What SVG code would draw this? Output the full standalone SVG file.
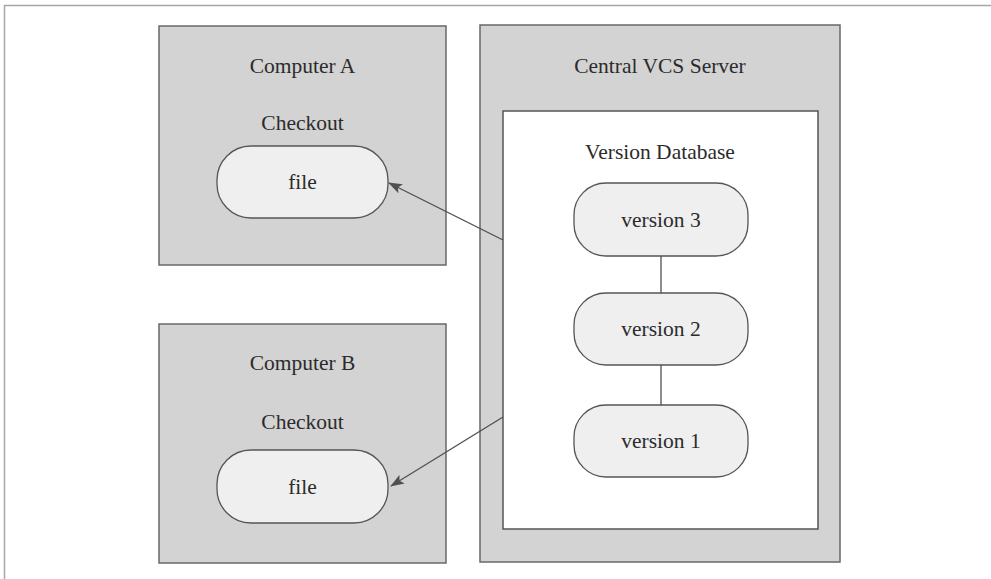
<svg xmlns="http://www.w3.org/2000/svg" width="991" height="579" viewBox="0 0 991 579">
  <style>
    .frame { stroke: #a6a6a6; stroke-width: 1.5; fill: none; }
    .box { fill: #d3d3d3; stroke: #686868; stroke-width: 1.5; }
    .db { fill: #ffffff; stroke: #555555; stroke-width: 1.5; }
    .node { fill: #efefef; stroke: #555555; stroke-width: 1.3; }
    .label { font-family: "Liberation Serif", "Times New Roman", serif; font-size: 21.5px; fill: #2b2b2b; text-anchor: middle; }
    .edge { stroke: #505050; stroke-width: 1.3; fill: none; }
  </style>
  <defs>
    <marker id="arrow" viewBox="0 0 14 10" refX="13" refY="5" markerWidth="14" markerHeight="10" markerUnits="userSpaceOnUse" orient="auto">
      <path d="M0,0 L14,5 L0,10 L3,5 Z" fill="#505050"/>
    </marker>
  </defs>

  <rect width="991" height="579" fill="#ffffff"/>
  <!-- page frame -->
  <path class="frame" d="M4.5,579 V5.5 H991"/>

  <!-- Computer A -->
  <g id="computer-a">
    <rect class="box" x="159" y="26" width="287" height="239"/>
    <text class="label" x="302.5" y="73">Computer A</text>
    <text class="label" x="302.5" y="130">Checkout</text>
    <g id="file-a">
      <rect class="node" x="217" y="146" width="171" height="72" rx="34" ry="34"/>
      <text class="label" x="302.5" y="189">file</text>
    </g>
  </g>

  <!-- Computer B -->
  <g id="computer-b">
    <rect class="box" x="159" y="324" width="287" height="239"/>
    <text class="label" x="302.5" y="370">Computer B</text>
    <text class="label" x="302.5" y="429">Checkout</text>
    <g id="file-b">
      <rect class="node" x="217" y="450" width="171" height="73" rx="34" ry="34"/>
      <text class="label" x="302.5" y="494">file</text>
    </g>
  </g>

  <!-- Central VCS Server -->
  <g id="server">
    <rect class="box" x="480" y="25" width="360" height="537"/>
    <text class="label" x="660" y="73">Central VCS Server</text>
    <g id="version-database">
      <rect class="db" x="503" y="111" width="315" height="418"/>
      <text class="label" x="660" y="159">Version Database</text>
    </g>
    <g id="version-3">
      <rect class="node" x="574" y="183" width="174" height="73" rx="32" ry="32"/>
      <text class="label" x="661" y="227">version 3</text>
    </g>
    <g id="version-2">
      <rect class="node" x="574" y="293" width="174" height="72" rx="32" ry="32"/>
      <text class="label" x="661" y="336">version 2</text>
    </g>
    <g id="version-1">
      <rect class="node" x="574" y="405" width="174" height="72" rx="32" ry="32"/>
      <text class="label" x="661" y="448">version 1</text>
    </g>
  </g>

  <!-- connectors -->
  <g id="connectors">
    <line class="edge" x1="661" y1="256" x2="661" y2="293"/>
    <line class="edge" x1="661" y1="365" x2="661" y2="405"/>
    <line class="edge" x1="503" y1="240" x2="389" y2="183" marker-end="url(#arrow)"/>
    <line class="edge" x1="503" y1="417" x2="391" y2="486" marker-end="url(#arrow)"/>
  </g>
</svg>
